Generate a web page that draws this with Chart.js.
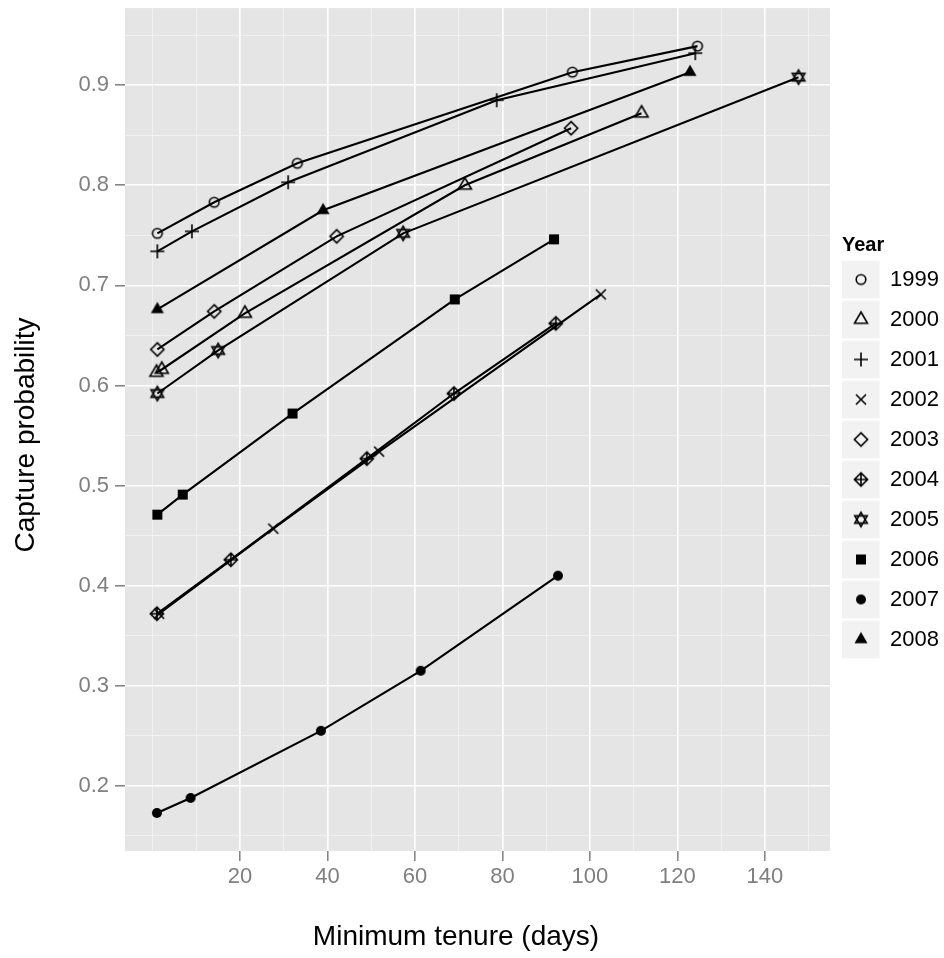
<!DOCTYPE html>
<html>
<head>
<meta charset="utf-8">
<title>Capture probability by minimum tenure</title>
<script src="https://cdn.jsdelivr.net/npm/chart.js@4.4.1/dist/chart.umd.min.js"></script>
<style>
    html, body { margin: 0; padding: 0; background: #ffffff; }
    #tenureChart { display: block; }
</style>
</head>
<body>
<canvas id="tenureChart" width="944" height="958"></canvas>
<script>
"use strict";

// Years (legend entries) and the marker used for each one
var years = ['1999', '2000', '2001', '2002', '2003', '2004', '2005', '2006', '2007', '2008'];
var shapes = ['circle', 'triangle', 'plus', 'cross', 'diamond', 'diamondPlus', 'hexagram', 'square', 'dot', 'triangleFilled'];

// Minimum tenure (days) and capture probability
var tenure1999 = [1.1, 14.1, 33.1, 96.0, 124.6];
var capture1999 = [0.752, 0.783, 0.822, 0.913, 0.939];

var tenure2000 = [0.9, 2.1, 21.1, 71.4, 111.8];
var capture2000 = [0.613, 0.616, 0.672, 0.800, 0.872];

var tenure2001 = [1.1, 9.0, 31.0, 78.7, 124.1];
var capture2001 = [0.734, 0.754, 0.803, 0.885, 0.932];

var tenure2002 = [1.5, 27.6, 51.8, 102.5];
var capture2002 = [0.372, 0.457, 0.534, 0.691];

var tenure2003 = [1.1, 14.1, 42.1, 95.7];
var capture2003 = [0.636, 0.674, 0.749, 0.857];

var tenure2004 = [1.0, 17.9, 49.0, 68.9, 92.2];
var capture2004 = [0.372, 0.426, 0.527, 0.592, 0.662];

var tenure2005 = [1.1, 15.0, 57.3, 147.7];
var capture2005 = [0.592, 0.635, 0.752, 0.908];

var tenure2006 = [1.1, 6.9, 32.0, 69.1, 91.8];
var capture2006 = [0.471, 0.491, 0.572, 0.686, 0.746];

var tenure2007 = [1.0, 8.7, 38.5, 61.3, 92.7];
var capture2007 = [0.173, 0.188, 0.255, 0.315, 0.410];

var tenure2008 = [1.1, 39.0, 122.9];
var capture2008 = [0.676, 0.775, 0.913];

// Axis breaks: labelled (major) and unlabelled (minor)
var xMajorTicks = [20, 40, 60, 80, 100, 120, 140];
var xMinorTicks = [0, 10, 30, 50, 70, 90, 110, 130, 150];
var yMajorTicks = [0.2, 0.3, 0.4, 0.5, 0.6, 0.7, 0.8, 0.9];
var yMinorTicks = [0.15, 0.25, 0.35, 0.45, 0.55, 0.65, 0.75, 0.85, 0.95];

var xTitle = 'Minimum tenure (days)';
var yTitle = 'Capture probability';
var legendTitle = 'Year';

var seriesX = [tenure1999, tenure2000, tenure2001, tenure2002, tenure2003, tenure2004, tenure2005, tenure2006, tenure2007, tenure2008];
var seriesY = [capture1999, capture2000, capture2001, capture2002, capture2003, capture2004, capture2005, capture2006, capture2007, capture2008];

var FONT = '"Liberation Sans", Arial, Helvetica, sans-serif';

// Build a little canvas for each ggplot-like point shape
function makeMarker(shape) {
    var c = document.createElement('canvas');
    c.width = 24;
    c.height = 24;
    var g = c.getContext('2d');
    g.translate(12, 12);
    g.strokeStyle = '#000000';
    g.fillStyle = '#000000';
    g.lineWidth = 1.6;
    g.lineJoin = 'miter';

    function triangle(s, down) {
        var h = s * Math.sqrt(3) / 2;
        var d = down ? -1 : 1;
        g.moveTo(0, -d * h * 2 / 3);
        g.lineTo(s / 2, d * h / 3);
        g.lineTo(-s / 2, d * h / 3);
        g.closePath();
    }

    g.beginPath();
    switch (shape) {
        case 'circle':
            g.arc(0, 0, 4.8, 0, Math.PI * 2);
            g.stroke();
            break;
        case 'triangle':
            triangle(13, false);
            g.stroke();
            break;
        case 'plus':
            g.moveTo(-7, 0); g.lineTo(7, 0);
            g.moveTo(0, -7); g.lineTo(0, 7);
            g.stroke();
            break;
        case 'cross':
            g.moveTo(-5, -5); g.lineTo(5, 5);
            g.moveTo(-5, 5); g.lineTo(5, -5);
            g.stroke();
            break;
        case 'diamond':
            g.moveTo(0, -6.6); g.lineTo(6.6, 0); g.lineTo(0, 6.6); g.lineTo(-6.6, 0);
            g.closePath();
            g.stroke();
            break;
        case 'diamondPlus':
            g.moveTo(0, -6.6); g.lineTo(6.6, 0); g.lineTo(0, 6.6); g.lineTo(-6.6, 0);
            g.closePath();
            g.moveTo(-6.6, 0); g.lineTo(6.6, 0);
            g.moveTo(0, -6.6); g.lineTo(0, 6.6);
            g.stroke();
            break;
        case 'hexagram':
            triangle(12.5, false);
            triangle(12.5, true);
            g.stroke();
            break;
        case 'square':
            g.fillRect(-5, -5, 10, 10);
            break;
        case 'dot':
            g.arc(0, 0, 5, 0, Math.PI * 2);
            g.fill();
            break;
        case 'triangleFilled':
            triangle(13, false);
            g.fill();
            break;
    }
    return c;
}

var markers = shapes.map(makeMarker);

var datasets = years.map(function (year, i) {
    return {
        label: year,
        data: seriesX[i].map(function (x, j) { return { x: x, y: seriesY[i][j] }; }),
        showLine: true,
        borderColor: '#000000',
        borderWidth: 2.1,
        tension: 0,
        pointStyle: markers[i],
        pointRadius: 6,
        pointHoverRadius: 6
    };
});

function isIn(list, v) {
    for (var k = 0; k < list.length; k++) {
        if (Math.abs(list[k] - v) < 1e-9) return true;
    }
    return false;
}

// Grey panel behind the grid
var panelBackground = {
    id: 'panelBackground',
    beforeDraw: function (chart) {
        var a = chart.chartArea;
        var ctx = chart.ctx;
        ctx.save();
        ctx.fillStyle = '#E5E5E5';
        ctx.fillRect(a.left, a.top, a.right - a.left, a.bottom - a.top);
        ctx.restore();
    }
};

// Axis titles and the shape legend on the right, ggplot style
var sideDecor = {
    id: 'sideDecor',
    afterDraw: function (chart) {
        var ctx = chart.ctx;
        ctx.save();
        ctx.fillStyle = '#000000';
        ctx.font = '28px ' + FONT;
        ctx.textAlign = 'center';
        ctx.textBaseline = 'middle';
        ctx.fillText(xTitle, 456, 937);

        ctx.save();
        ctx.translate(26, 435);
        ctx.rotate(-Math.PI / 2);
        ctx.fillText(yTitle, 0, 0);
        ctx.restore();

        // legend
        ctx.textAlign = 'left';
        ctx.font = 'bold 20px ' + FONT;
        ctx.fillText(legendTitle, 842, 245);

        ctx.font = '22px ' + FONT;
        years.forEach(function (year, i) {
            var top = 260.7 + i * 40;
            ctx.fillStyle = '#F2F2F2';
            ctx.fillRect(842, top, 37.6, 37.6);
            ctx.drawImage(markers[i], 861 - 12, top + 18.8 - 12);
            ctx.fillStyle = '#000000';
            ctx.fillText(year, 890, top + 19.5);
        });
        ctx.restore();
    }
};

var ctx = document.getElementById('tenureChart').getContext('2d');
var chart = new Chart(ctx, {
    type: 'scatter',
    data: { datasets: datasets },
    options: {
        responsive: false,
        animation: false,
        devicePixelRatio: 1,
        layout: {
            padding: { left: 0, right: 114, top: 8, bottom: 0 }
        },
        font: { family: FONT },
        scales: {
            x: {
                type: 'linear',
                min: -6.3,
                max: 154.9,
                afterBuildTicks: function (scale) {
                    scale.ticks = xMajorTicks.concat(xMinorTicks)
                        .sort(function (a, b) { return a - b; })
                        .map(function (v) { return { value: v }; });
                },
                afterFit: function (scale) {
                    scale.height = 107;
                    scale.paddingLeft = 0;
                    scale.paddingRight = 0;
                },
                border: { display: false },
                grid: {
                    color: function (c) { return isIn(xMajorTicks, c.tick.value) ? '#FFFFFF' : '#F2F2F2'; },
                    lineWidth: function (c) { return isIn(xMajorTicks, c.tick.value) ? 1.6 : 0.9; },
                    drawTicks: true,
                    tickLength: 10,
                    tickWidth: 1.5,
                    tickColor: function (c) { return isIn(xMajorTicks, c.tick.value) ? '#7F7F7F' : 'rgba(0,0,0,0)'; }
                },
                ticks: {
                    autoSkip: false,
                    maxRotation: 0,
                    padding: 3,
                    color: '#7F7F7F',
                    font: { family: FONT, size: 22 },
                    callback: function (value) {
                        return isIn(xMajorTicks, value) ? String(value) : '';
                    }
                }
            },
            y: {
                type: 'linear',
                min: 0.135,
                max: 0.977,
                afterBuildTicks: function (scale) {
                    scale.ticks = yMajorTicks.concat(yMinorTicks)
                        .sort(function (a, b) { return a - b; })
                        .map(function (v) { return { value: v }; });
                },
                afterFit: function (scale) {
                    scale.width = 125;
                    scale.paddingTop = 0;
                    scale.paddingBottom = 0;
                },
                border: { display: false },
                grid: {
                    color: function (c) { return isIn(yMajorTicks, c.tick.value) ? '#FFFFFF' : '#F2F2F2'; },
                    lineWidth: function (c) { return isIn(yMajorTicks, c.tick.value) ? 1.6 : 0.9; },
                    drawTicks: true,
                    tickLength: 10,
                    tickWidth: 1.5,
                    tickColor: function (c) { return isIn(yMajorTicks, c.tick.value) ? '#7F7F7F' : 'rgba(0,0,0,0)'; }
                },
                ticks: {
                    autoSkip: false,
                    padding: 6,
                    color: '#7F7F7F',
                    font: { family: FONT, size: 22 },
                    callback: function (value) {
                        return isIn(yMajorTicks, value) ? value.toFixed(1) : '';
                    }
                }
            }
        },
        plugins: {
            legend: { display: false },
            tooltip: { enabled: false }
        }
    },
    plugins: [panelBackground, sideDecor]
});
</script>
</body>
</html>
